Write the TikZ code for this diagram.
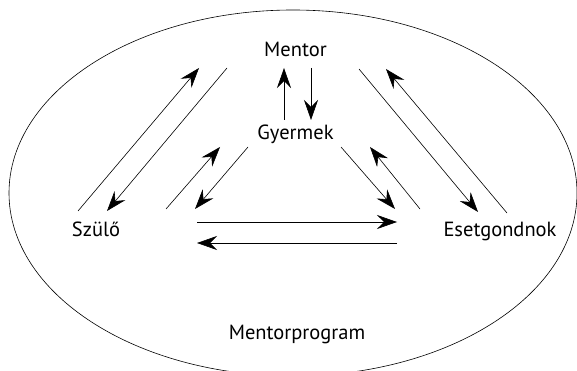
\documentclass[tikz,border=0pt]{standalone}
\usepackage{fontspec}
\setmainfont{PT Sans}
\usetikzlibrary{arrows.meta}
\begin{document}
\begin{tikzpicture}[x=1pt,y=-1pt,
  lbl/.style={anchor=base,inner sep=0pt,font=\fontsize{20.5}{24}\selectfont},
  conn/.style={line width=0.6pt,-{Stealth[length=20pt,width=14pt,inset=7pt]}}]
\useasboundingbox (0,0) rectangle (577,371);
\draw[line width=0.6pt] (293,193) ellipse [x radius=284pt, y radius=183pt];
\node[lbl] (mentor) at (295.5,57) {Mentor};
\node[lbl] (gyermek) at (295.5,140) {Gyermek};
\node[lbl] (szulo) at (96,236) {Szülő};
\node[lbl] (eset) at (500,236) {Esetgondnok};
\node[lbl] (prog) at (297,339) {Mentorprogram};
% Mentor - Gyermek
\coordinate (mg1a) at (284,120); \coordinate (mg1b) at (284,68);
\coordinate (mg2a) at (311,68);  \coordinate (mg2b) at (311,120);
\draw[conn] (mg1a) -- (mg1b);
\draw[conn] (mg2a) -- (mg2b);
% Szulo - Mentor
\coordinate (sm1a) at (78,211);  \coordinate (sm1b) at (199,68);
\coordinate (sm2a) at (227,68);  \coordinate (sm2b) at (107,211);
\draw[conn] (sm1a) -- (sm1b);
\draw[conn] (sm2a) -- (sm2b);
% Szulo - Gyermek
\coordinate (sg1a) at (166,209); \coordinate (sg1b) at (220,147);
\coordinate (sg2a) at (248,147); \coordinate (sg2b) at (195,209);
\draw[conn] (sg1a) -- (sg1b);
\draw[conn] (sg2a) -- (sg2b);
% Gyermek - Esetgondnok
\coordinate (ge1a) at (341,147); \coordinate (ge1b) at (395,209);
\coordinate (ge2a) at (420,209); \coordinate (ge2b) at (370,147);
\draw[conn] (ge1a) -- (ge1b);
\draw[conn] (ge2a) -- (ge2b);
% Mentor - Esetgondnok
\coordinate (me1a) at (359,69);  \coordinate (me1b) at (478,212);
\coordinate (me2a) at (507,213); \coordinate (me2b) at (386,69);
\draw[conn] (me1a) -- (me1b);
\draw[conn] (me2a) -- (me2b);
% Szulo - Esetgondnok
\coordinate (se1a) at (197,222); \coordinate (se1b) at (397,222);
\coordinate (se2a) at (397,243); \coordinate (se2b) at (197,243);
\draw[conn] (se1a) -- (se1b);
\draw[conn] (se2a) -- (se2b);
\end{tikzpicture}
\end{document}
